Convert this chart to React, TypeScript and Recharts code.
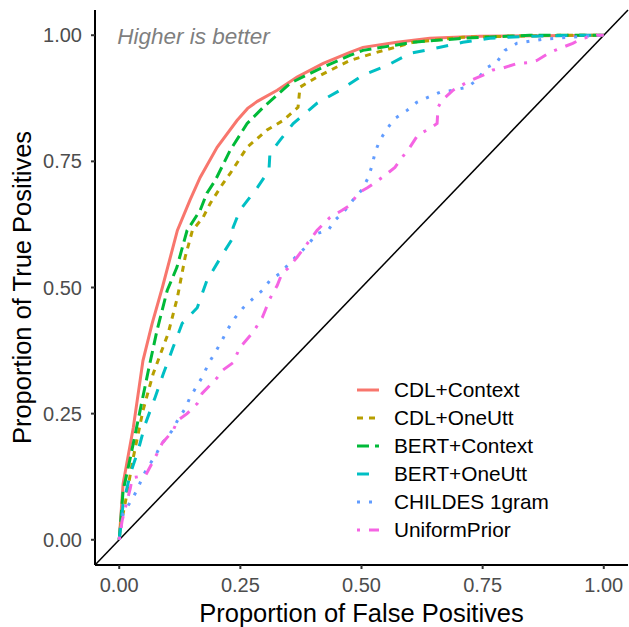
import { LineChart, Line, XAxis, YAxis, ReferenceLine, ReferenceDot } from "recharts"

// ROC points as [false positive rate, true positive rate]
const cdlContext = [
    [0, 0], [0.008, 0.111], [0.029, 0.222], [0.049, 0.355], [0.068, 0.429], [0.089, 0.5],
    [0.12, 0.613], [0.146, 0.673], [0.167, 0.718], [0.202, 0.778], [0.243, 0.831], [0.265, 0.855],
    [0.285, 0.869], [0.326, 0.891], [0.367, 0.917], [0.421, 0.944], [0.476, 0.966], [0.503, 0.976],
    [0.573, 0.986], [0.641, 0.994], [0.744, 0.998], [1, 1],
]
const cdlOneUtt = [
    [0, 0], [0.002, 0.024], [0.012, 0.071], [0.029, 0.163], [0.049, 0.256], [0.07, 0.329],
    [0.08, 0.355], [0.101, 0.409], [0.12, 0.48], [0.136, 0.56], [0.151, 0.613], [0.173, 0.639],
    [0.188, 0.667], [0.214, 0.706], [0.229, 0.726], [0.264, 0.778], [0.305, 0.812], [0.338, 0.831],
    [0.369, 0.857], [0.373, 0.897], [0.408, 0.917], [0.449, 0.937], [0.476, 0.95], [0.524, 0.964],
    [0.606, 0.986], [0.709, 0.996], [0.915, 1], [1, 1],
]
const bertContext = [
    [0, 0], [0.008, 0.097], [0.023, 0.163], [0.043, 0.256], [0.06, 0.335], [0.078, 0.415],
    [0.099, 0.494], [0.119, 0.54], [0.14, 0.613], [0.167, 0.653], [0.181, 0.687], [0.198, 0.712],
    [0.229, 0.772], [0.264, 0.825], [0.297, 0.857], [0.353, 0.905], [0.408, 0.931], [0.476, 0.96],
    [0.503, 0.97], [0.606, 0.986], [0.709, 0.994], [0.847, 1], [1, 1],
]
const bertOneUtt = [
    [0, 0], [0.008, 0.071], [0.023, 0.131], [0.039, 0.177], [0.054, 0.23], [0.074, 0.282],
    [0.091, 0.329], [0.111, 0.381], [0.13, 0.429], [0.161, 0.46], [0.181, 0.514], [0.214, 0.567],
    [0.235, 0.599], [0.235, 0.619], [0.249, 0.653], [0.285, 0.698], [0.309, 0.732], [0.311, 0.766],
    [0.332, 0.792], [0.359, 0.825], [0.408, 0.865], [0.456, 0.891], [0.503, 0.921], [0.553, 0.94],
    [0.6, 0.964], [0.662, 0.976], [0.709, 0.986], [0.765, 0.994], [0.847, 0.998], [0.951, 1], [1, 1],
]
const childes1gram = [
    [0, 0], [0.008, 0.052], [0.027, 0.081], [0.039, 0.103], [0.049, 0.127], [0.064, 0.151],
    [0.078, 0.173], [0.089, 0.192], [0.109, 0.216], [0.12, 0.236], [0.136, 0.26], [0.146, 0.282],
    [0.161, 0.306], [0.173, 0.325], [0.184, 0.349], [0.198, 0.371], [0.212, 0.395], [0.225, 0.419],
    [0.239, 0.44], [0.256, 0.46], [0.276, 0.478], [0.295, 0.494], [0.311, 0.514], [0.332, 0.528],
    [0.353, 0.55], [0.388, 0.583], [0.408, 0.607], [0.431, 0.613], [0.445, 0.633], [0.466, 0.653],
    [0.482, 0.673], [0.501, 0.694], [0.513, 0.716], [0.522, 0.742], [0.528, 0.768], [0.538, 0.792],
    [0.553, 0.815], [0.569, 0.835], [0.594, 0.851], [0.614, 0.867], [0.637, 0.877], [0.662, 0.887],
    [0.689, 0.891], [0.718, 0.897], [0.738, 0.911], [0.751, 0.927], [0.761, 0.937], [0.779, 0.946],
    [0.796, 0.97], [0.821, 0.984], [0.847, 0.988], [0.874, 0.992], [0.903, 0.994], [0.93, 0.996],
    [0.957, 0.998], [1, 1],
]
const uniformPrior = [
    [0, 0], [0.006, 0.038], [0.023, 0.103], [0.027, 0.123], [0.054, 0.127], [0.074, 0.163],
    [0.089, 0.192], [0.111, 0.216], [0.12, 0.236], [0.14, 0.25], [0.161, 0.27], [0.171, 0.29],
    [0.202, 0.321], [0.212, 0.335], [0.235, 0.351], [0.249, 0.381], [0.276, 0.411], [0.295, 0.44],
    [0.301, 0.454], [0.311, 0.478], [0.326, 0.504], [0.336, 0.528], [0.348, 0.538], [0.367, 0.56],
    [0.388, 0.587], [0.408, 0.613], [0.435, 0.639], [0.46, 0.653], [0.476, 0.663], [0.493, 0.687],
    [0.513, 0.698], [0.528, 0.708], [0.548, 0.722], [0.569, 0.738], [0.584, 0.758], [0.6, 0.778],
    [0.616, 0.802], [0.635, 0.812], [0.656, 0.825], [0.658, 0.857], [0.666, 0.871], [0.689, 0.891],
    [0.718, 0.907], [0.751, 0.921], [0.771, 0.931], [0.792, 0.935], [0.821, 0.944], [0.847, 0.946],
    [0.862, 0.95], [0.889, 0.966], [0.915, 0.976], [0.936, 0.984], [0.957, 0.994], [0.986, 1], [1, 1],
]

const ticks = [0, 0.25, 0.5, 0.75, 1]

const series = [
    { name: "CDL+Context", points: cdlContext, color: "#F8766D", dash: undefined },
    { name: "CDL+OneUtt", points: cdlOneUtt, color: "#B79F00", dash: "6 6" },
    { name: "BERT+Context", points: bertContext, color: "#00BA38", dash: "12 6" },
    { name: "BERT+OneUtt", points: bertOneUtt, color: "#00BFC4", dash: "12 12" },
    { name: "CHILDES 1gram", points: childes1gram, color: "#619CFF", dash: "3 9" },
    { name: "UniformPrior", points: uniformPrior, color: "#F564E3", dash: "3 9 12 9" },
]

const font = "'Liberation Sans', Arial, sans-serif"
const fmt = (v: number) => v.toFixed(2)

function XTitle({ viewBox }: any) {
    return (
        <text x={viewBox.x + viewBox.width / 2} y={viewBox.y + 57} textAnchor="middle"
            fontSize={25.5} fill="#000" fontFamily={font}>
            Proportion of False Positives
        </text>
    )
}

function YTitle({ viewBox }: any) {
    const cy = viewBox.y + viewBox.height / 2
    return (
        <text transform={`translate(31,${cy}) rotate(-90)`} textAnchor="middle"
            fontSize={25.5} fill="#000" fontFamily={font}>
            Proportion of True Positives
        </text>
    )
}

function Note(props: any) {
    return (
        <text x={props.cx - 2} y={props.cy + 9} fontSize={22.5} fontStyle="italic"
            fill="#7F7F7F" fontFamily={font}>
            Higher is better
        </text>
    )
}

export default function App() {
    const tickStyle = { fontSize: 20, fill: "#4D4D4D", fontFamily: font }
    return (
        <div style={{ position: "absolute", left: 0, top: 0, width: 629, height: 627, background: "#fff" }}>
            <LineChart width={629} height={627} margin={{ top: 10, right: 1, bottom: 0, left: 0 }}>
                <XAxis type="number" dataKey="x" domain={[-0.05, 1.05]} allowDataOverflow ticks={ticks}
                    tickFormatter={fmt} height={62} tickSize={4} tickMargin={9} tick={tickStyle}
                    axisLine={{ stroke: "#000", strokeWidth: 2 }} tickLine={{ stroke: "#333", strokeWidth: 2 }}
                    label={<XTitle />} />
                <YAxis type="number" dataKey="y" domain={[-0.05, 1.05]} allowDataOverflow ticks={ticks}
                    tickFormatter={fmt} width={95} tickSize={4} tickMargin={9} tick={tickStyle}
                    axisLine={{ stroke: "#000", strokeWidth: 2 }} tickLine={{ stroke: "#333", strokeWidth: 2 }}
                    label={<YTitle />} />
                <ReferenceLine segment={[{ x: -0.05, y: -0.05 }, { x: 1.05, y: 1.05 }]}
                    stroke="#000" strokeWidth={1.5} />
                {series.map((s) => (
                    <Line key={s.name} name={s.name} type="linear" dataKey="y"
                        data={s.points.map(([x, y]) => ({ x, y }))}
                        stroke={s.color} strokeWidth={3} strokeDasharray={s.dash}
                        dot={false} activeDot={false} isAnimationActive={false} />
                ))}
                <ReferenceDot x={0} y={1} r={0} shape={<Note />} />
            </LineChart>
            <div style={{ position: "absolute", left: 357, top: 376, fontFamily: font }}>
                {series.map((s) => (
                    <div key={s.name} style={{ height: 28, display: "flex", alignItems: "center" }}>
                        <svg width={22} height={28} style={{ display: "block" }}>
                            <line x1={0} x2={22} y1={14} y2={14} stroke={s.color} strokeWidth={3}
                                strokeDasharray={s.dash} />
                        </svg>
                        <span style={{ marginLeft: 15, fontSize: 20.8, color: "#000", whiteSpace: "nowrap" }}>
                            {s.name}
                        </span>
                    </div>
                ))}
            </div>
        </div>
    )
}
